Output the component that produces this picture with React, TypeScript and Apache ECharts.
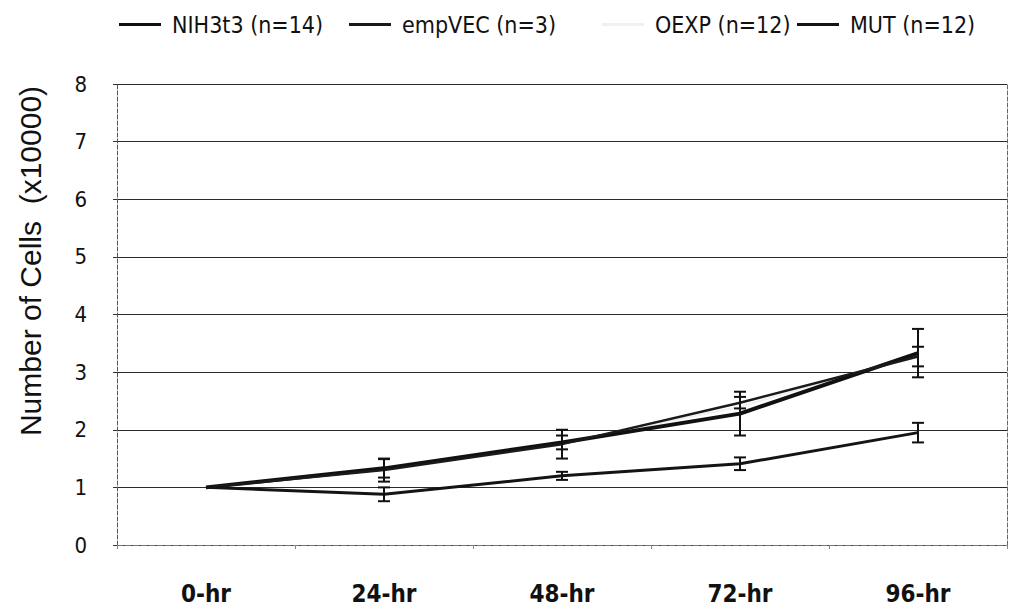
import React, { useEffect, useRef } from "react";
import * as echarts from "echarts";

const categories = ["0-hr", "24-hr", "48-hr", "72-hr", "96-hr"];
const seriesNames = ["NIH3t3 (n=14)", "empVEC (n=3)", "OEXP (n=12)", "MUT (n=12)"];
const nih3t3 = [1.0, 1.33, 1.78, 2.28, 3.33];
const nih3t3Err = [0, 0.16, 0.12, 0.38, 0.42];
const empVEC = [1.0, 1.3, 1.75, 2.47, 3.27];
const empVECErr = [0, 0.2, 0.25, 0.1, 0.17];
const oexp = [1.0, 1.32, 1.77, 2.4, 3.3];
const oexpErr = [0, 0, 0, 0, 0];
const mut = [1.0, 0.88, 1.2, 1.41, 1.95];
const mutErr = [0, 0.12, 0.07, 0.11, 0.17];
const yTicks = [0, 1, 2, 3, 4, 5, 6, 7, 8];

const seriesValues = [nih3t3, empVEC, oexp, mut];
const seriesErrors = [nih3t3Err, empVECErr, oexpErr, mutErr];
const seriesColors = ["#111111", "#1a1a1a", "#f0f0f0", "#141414"];
const seriesWidths = [4, 2.5, 2, 3];
const legendLefts = [114, 344, 597, 792];

const FONT = "'DejaVu Sans Condensed', 'Liberation Sans Narrow', 'DejaVu Sans', sans-serif";

export default function App() {
  const ref = useRef<HTMLDivElement>(null);
  useEffect(() => {
    if (!ref.current) return;
    const chart = echarts.init(ref.current, null, { renderer: "svg" });

    const lineSeries = seriesNames.map((name, i) => ({
      name,
      type: "line",
      data: seriesValues[i],
      symbol: "none",
      smooth: false,
      lineStyle: { color: seriesColors[i], width: seriesWidths[i] },
      itemStyle: { color: seriesColors[i] },
      z: i === 2 ? 1 : 3,
    }));

    const errSeries = seriesNames.map((name, i) => ({
      name: name + " error",
      type: "custom",
      data: seriesValues[i]
        .map((v, j) => [j, v - seriesErrors[i][j], v + seriesErrors[i][j]])
        .filter((_, j) => seriesErrors[i][j] > 0),
      renderItem: (params: any, api: any) => {
        const x = api.value(0);
        const lo = api.coord([x, api.value(1)]);
        const hi = api.coord([x, api.value(2)]);
        const hw = 6;
        const style = { stroke: i === 2 ? "#e8e8e8" : "#111", lineWidth: 2 };
        return {
          type: "group",
          children: [
            { type: "line", shape: { x1: lo[0], y1: lo[1], x2: hi[0], y2: hi[1] }, style },
            { type: "line", shape: { x1: lo[0] - hw, y1: lo[1], x2: lo[0] + hw, y2: lo[1] }, style },
            { type: "line", shape: { x1: hi[0] - hw, y1: hi[1], x2: hi[0] + hw, y2: hi[1] }, style },
          ],
        };
      },
      z: 4,
      silent: true,
    }));

    const legends = seriesNames.map((name, i) => ({
      data: [name],
      left: legendLefts[i],
      top: 8,
      icon: "rect",
      itemWidth: 42,
      itemHeight: 3,
      textStyle: { fontFamily: FONT, fontSize: 23, color: "#111", padding: [0, 0, 0, 6] },
    }));

    chart.setOption({
      animation: false,
      backgroundColor: "#ffffff",
      legend: legends,
      grid: { left: 117, right: 6, top: 84, bottom: 67, containLabel: false },
      xAxis: {
        type: "category",
        data: categories,
        boundaryGap: true,
        axisLine: { show: true, lineStyle: { color: "#777", width: 1, type: [6, 2] } },
        axisTick: { show: true, alignWithLabel: false, length: 4, lineStyle: { color: "#888" } },
        axisLabel: { fontFamily: FONT, fontWeight: "bold", fontSize: 24, color: "#111", margin: 37 },
      },
      yAxis: [
        {
          type: "value",
          min: 0,
          max: 8,
          interval: 1,
          axisLine: { show: true, lineStyle: { color: "#555", width: 1, type: [4, 2] } },
          axisTick: { show: true, length: 4, lineStyle: { color: "#333" } },
          axisLabel: { fontFamily: FONT, fontSize: 22, color: "#111", margin: 30, formatter: (v: number) => String(yTicks[v] ?? v) },
          splitLine: { show: true, lineStyle: { color: "#2a2a2a", width: 1 } },
        },
        {
          type: "value",
          min: 0,
          max: 8,
          interval: 1,
          position: "right",
          axisLine: { show: true, lineStyle: { color: "#666", width: 1, type: [4, 2] } },
          axisTick: { show: false },
          axisLabel: { show: false },
          splitLine: { show: false },
        },
      ],
      graphic: [
        {
          type: "text",
          x: 30,
          y: 261,
          rotation: Math.PI / 2,
          style: {
            text: "Number of Cells  (x10000)",
            font: "30px 'Liberation Sans', Arial, sans-serif",
            fill: "#111",
            textAlign: "center",
            textVerticalAlign: "middle",
          },
        },
      ],
      series: [...lineSeries, ...errSeries],
    });
    return () => chart.dispose();
  }, []);
  return <div ref={ref} style={{ position: "fixed", left: 0, top: 0, width: 1013, height: 612 }} />;
}
